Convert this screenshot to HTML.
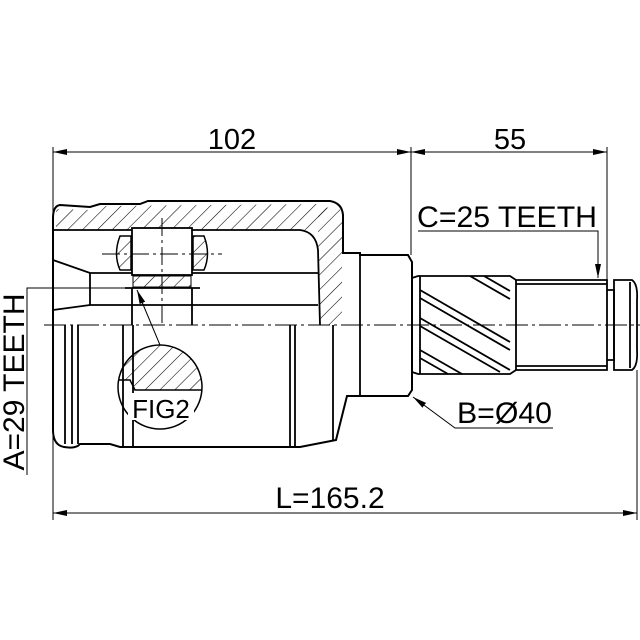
<!DOCTYPE html>
<html><head><meta charset="utf-8"><style>body{margin:0;background:#fff}svg{display:block}</style></head>
<body>
<svg width="640" height="640" viewBox="0 0 640 640" xmlns="http://www.w3.org/2000/svg" font-family="Liberation Sans, sans-serif">
<defs>
<pattern id="h" width="10.5" height="10.5" patternUnits="userSpaceOnUse" patternTransform="rotate(45)">
<line x1="0" y1="0" x2="0" y2="10.5" stroke="#000" stroke-width="1.1"/></pattern>
<marker id="a" viewBox="0 0 14 6" refX="14" refY="3" markerWidth="14" markerHeight="6" orient="auto-start-reverse" markerUnits="userSpaceOnUse"><path d="M0,0L14,3L0,6z"/></marker>
</defs>
<g stroke="#000" fill="none" stroke-width="1">
<line x1="53" y1="147" x2="53" y2="520"/>
<line x1="411" y1="147" x2="411" y2="255"/>
<line x1="607" y1="147" x2="607" y2="280"/>
<line x1="637" y1="370" x2="637" y2="520"/>
<line x1="53" y1="152" x2="411" y2="152" marker-start="url(#a)" marker-end="url(#a)"/>
<line x1="411" y1="152" x2="607" y2="152" marker-start="url(#a)" marker-end="url(#a)"/>
<line x1="53" y1="513" x2="637" y2="513" marker-start="url(#a)" marker-end="url(#a)"/>
<line x1="44" y1="325" x2="640" y2="325" stroke-dasharray="22,4,3,4"/>
<polyline points="128,288 27,288 27,475"/>
<polyline points="418,231 598,231 598,278" marker-end="url(#a)"/>
<polyline points="553,428 455,428 413,397" marker-end="url(#a)"/>
</g>
<path d="M56,209 L90,210 L100,206 L325,204 L332,215 L305,230 L56,230 Z" fill="url(#h)"/>
<path d="M318,212 L333,205 Q342,206 342,218 L342,325 L320,325 L318,250 Z" fill="url(#h)"/>
<g stroke="#000" fill="none" stroke-width="2">
<path d="M60,205 L90,207 L100,204 L140,204 L148,201 L330,201 Q342,203 343,215 L343,253 L360,253 L360,255 L408,255 L412,262 L412,390 L408,396 L360,396 L347,396 L336,440 L300,447 L120,447 L110,444 L80,444 Q76,449 64,447 Q53,445 53,430 L53,218 Q53,206 60,205 Z"/>
</g>
<g stroke="#000" fill="none" stroke-width="1.8">
<path d="M53,230 L300,230 Q316,232 318,250 L320,325"/>
<path d="M53,260 L90,273 L318,273"/>
<path d="M53,310 L90,305 L318,305"/>
<line x1="90" y1="273" x2="90" y2="305"/>
<line x1="65" y1="325" x2="65" y2="444"/>
<line x1="72" y1="325" x2="72" y2="444"/>
<line x1="78" y1="325" x2="78" y2="444"/>
<line x1="123" y1="325" x2="123" y2="447"/>
<line x1="133" y1="325" x2="133" y2="447"/>
<line x1="290" y1="325" x2="290" y2="447"/>
<line x1="295" y1="325" x2="295" y2="447"/>
<line x1="333" y1="325" x2="333" y2="440"/>
<rect x="132" y="228" width="60" height="47" fill="#fff"/>
<line x1="132" y1="288" x2="132" y2="325"/>
<line x1="192" y1="288" x2="192" y2="325"/>
<line x1="125" y1="288" x2="200" y2="288"/>
<line x1="360" y1="255" x2="360" y2="396"/>
<path d="M412,278 L418,276 L510,276 L516,280 L607,280 L607,370 L516,370 L510,374 L418,374 L412,372"/>
<line x1="420" y1="276" x2="420" y2="374"/>
<line x1="516" y1="280" x2="516" y2="370"/>
<line x1="516" y1="284" x2="607" y2="284"/>
<line x1="516" y1="366" x2="607" y2="366"/>
<path d="M607,290 L614,290 L614,360 L607,360"/>
<path d="M614,280 L632,280 Q638,284 637,300 L637,350 Q638,366 632,370 L614,370 Z"/>
<line x1="630" y1="282" x2="630" y2="368"/>
<line x1="420" y1="290" x2="510" y2="342"/>
<line x1="420" y1="298" x2="510" y2="350"/>
<line x1="420" y1="318" x2="510" y2="370"/>
<line x1="420" y1="326" x2="500" y2="372"/>
<line x1="420" y1="350" x2="462" y2="374"/>
<line x1="420" y1="358" x2="448" y2="374"/>
<line x1="470" y1="276" x2="510" y2="299"/>
<line x1="484" y1="276" x2="510" y2="291"/>
</g>
<path d="M133,276 L191,276 L191,287 L133,287 Z" fill="url(#h)" stroke="#000" stroke-width="1"/>
<path d="M120,236 L131,236 L131,270 L120,270 Q113,254 120,236Z" fill="url(#h)" stroke="#000" stroke-width="1.5"/>
<path d="M193,236 L204,236 Q211,254 204,270 L193,270Z" fill="url(#h)" stroke="#000" stroke-width="1.5"/>
<g stroke="#000" fill="none" stroke-width="1">
<line x1="102" y1="254" x2="222" y2="254" stroke-dasharray="18,4,3,4"/>
<line x1="162" y1="218" x2="162" y2="325" stroke-dasharray="18,4,3,4"/>
<line x1="160" y1="345" x2="137" y2="290" marker-end="url(#a)"/>
</g>
<clipPath id="c"><circle cx="160" cy="387" r="42"/></clipPath>
<path d="M110,340 L210,340 L210,390 L135,390 L130,380 L110,380Z" fill="url(#h)" clip-path="url(#c)"/>
<path d="M118,380 L130,380 L135,390 L205,390" stroke="#000" fill="none" stroke-width="1.5" clip-path="url(#c)"/>
<circle cx="160" cy="387" r="42" fill="none" stroke="#000" stroke-width="1.5"/>
<rect x="128" y="393" width="66" height="27" fill="#fff"/>
<g font-size="30" fill="#000">
<text x="161" y="418" text-anchor="middle" font-size="26">FIG2</text>
<text x="232" y="149" text-anchor="middle" font-size="29">102</text>
<text x="510" y="149" text-anchor="middle" font-size="29">55</text>
<text x="330" y="508" text-anchor="middle">L=165.2</text>
<text x="417" y="227" textLength="180" lengthAdjust="spacingAndGlyphs">C=25 TEETH</text>
<text x="457" y="423" textLength="95" lengthAdjust="spacingAndGlyphs">B=Ø40</text>
<text transform="translate(24,382) rotate(-90)" text-anchor="middle">A=29 TEETH</text>
</g>
</svg>
</body></html>
